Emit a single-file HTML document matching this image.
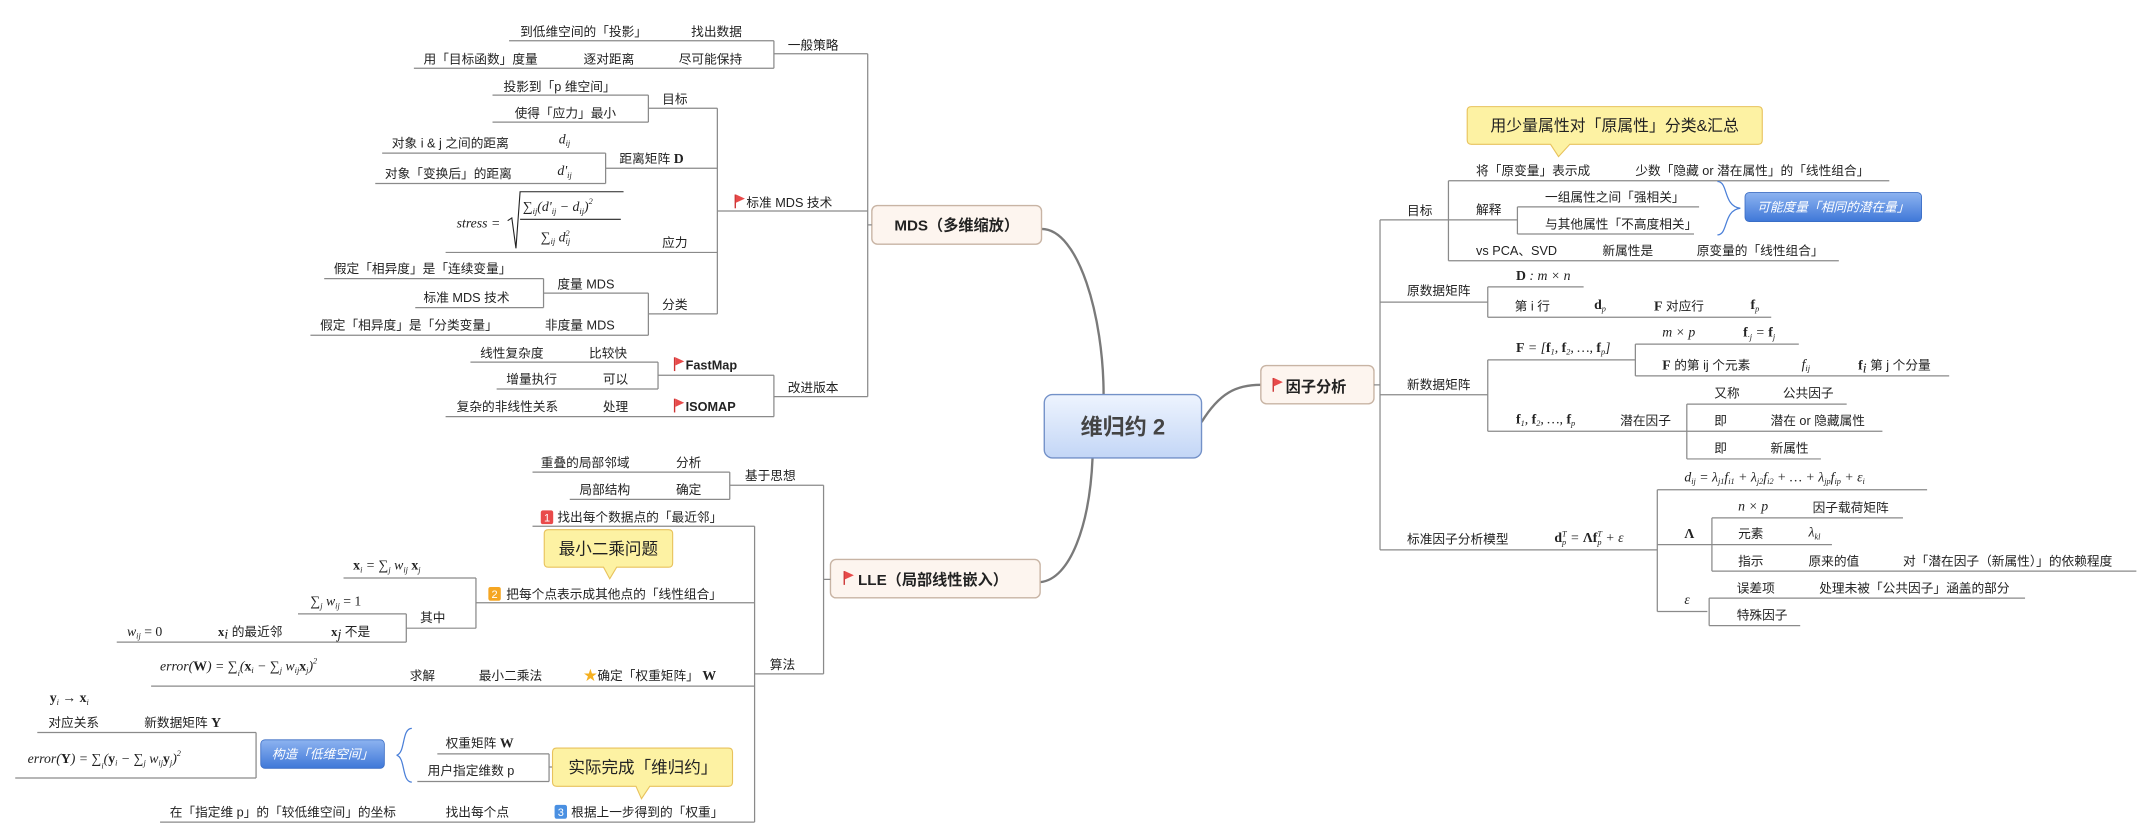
<!DOCTYPE html>
<html><head><meta charset="utf-8"><style>
html,body{margin:0;padding:0;background:#fff;width:2152px;height:838px;overflow:hidden}
svg{display:block}
text{font-family:"Liberation Sans","Noto Sans CJK SC",sans-serif;font-size:9.2px;fill:#222}
.m{font-family:"Liberation Serif","Noto Serif CJK SC",serif;font-style:italic;font-size:10px}
.b{font-family:"Liberation Serif",serif;font-weight:bold;font-style:normal}
.t{font-weight:bold;font-size:11px}
.l{stroke:#8a8a8a;stroke-width:0.9;fill:none}
.c{stroke:#7a7a7a;stroke-width:1.7;fill:none}
</style></head><body>
<svg width="2152" height="838" viewBox="0 0 1560 607.5" xmlns="http://www.w3.org/2000/svg">
<defs>
<linearGradient id="cg" x1="0" y1="0" x2="0" y2="1"><stop offset="0" stop-color="#eef4fe"/><stop offset="1" stop-color="#c3d6f6"/></linearGradient>
<linearGradient id="bg" x1="0" y1="0" x2="0" y2="1"><stop offset="0" stop-color="#8db3f0"/><stop offset="1" stop-color="#3f78d8"/></linearGradient>
<g id="flag"><path d="M0,0 V10" stroke="#c33" stroke-width="1"/><path d="M0.5,0 L7,3 L0.5,6 Z" fill="#e84a4a"/></g>
</defs>

<!-- main curves -->
<path class="c" d="M755,166 C782,166 800,230 800,286"/>
<path class="c" d="M754,422 C776,420 790,380 792,332"/>
<path class="c" d="M871,306 C884,285 896,279 914,279"/>

<!-- center -->
<rect x="757" y="286" width="114" height="46" rx="6" fill="url(#cg)" stroke="#7391c8" stroke-width="1"/>
<text x="814" y="315" text-anchor="middle" style="font-size:16px;font-weight:bold;fill:#444">维归约 2</text>

<!-- MDS box -->
<rect x="632" y="149" width="123" height="28" rx="4" fill="#fdf5ef" stroke="#c8b4a4"/>
<text x="693.5" y="167" text-anchor="middle" class="t">MDS（多维缩放）</text>

<!-- MDS tree -->
<g class="l">
<path d="M629,39 V287.5 M629,163 H632"/>
<path d="M561,39 H629 M561,29.5 V49.5 M369,29.5 H561 M300,49.5 H561"/>
<path d="M520,153 H629 M520,78.5 V227.5"/>
<path d="M470,78.5 H520 M470,69 V88.5 M357,69 H470 M357,88.5 H470"/>
<path d="M439,122 H520 M439,111 V133 M277,111 H439 M272,133 H439"/>
<path d="M323,183 H520"/>
<path d="M470,227.5 H520 M470,212.5 V243 M394,212.5 H470 M394,202 V223 M235,202 H394 M301,223 H394 M225,243 H470"/>
<path d="M561,287.5 H629 M561,272 V302 M477,272 H561 M477,262.5 V282 M341,262.5 H477 M360,282 H477 M323,302 H561"/>
</g>
<text x="571" y="36">一般策略</text>
<text x="377" y="26">到低维空间的「投影」</text><text x="501" y="26">找出数据</text>
<text x="307" y="46">用「目标函数」度量</text><text x="423" y="46">逐对距离</text><text x="492" y="46">尽可能保持</text>
<use href="#flag" x="533" y="141"/><text x="541" y="150">标准 MDS 技术</text>
<text x="480" y="75">目标</text>
<text x="365" y="66">投影到「p 维空间」</text>
<text x="373" y="85">使得「应力」最小</text>
<text x="449" y="118">距离矩阵 <tspan class="b" style="font-size:10px">D</tspan></text>
<text x="284" y="107">对象 i &amp; j 之间的距离</text><text x="405" y="104" class="m">d<tspan font-size="6" dy="2">ij</tspan></text>
<text x="279" y="129">对象「变换后」的距离</text><text x="404" y="127" class="m">d'<tspan font-size="6" dy="2">ij</tspan></text>
<text x="480" y="179">应力</text>
<text x="331" y="165" class="m">stress =</text>
<path d="M368,160 L371,158 L374,180 L377,139 H452" stroke="#222" stroke-width="0.8" fill="none"/>
<text x="379" y="153" class="m">∑<tspan font-size="6" dy="2">ij</tspan><tspan dy="-2">(d'</tspan><tspan font-size="6" dy="2">ij</tspan><tspan dy="-2"> − d</tspan><tspan font-size="6" dy="2">ij</tspan><tspan dy="-2">)</tspan><tspan font-size="6" dy="-5">2</tspan></text>
<path d="M377,159 H450" stroke="#222" stroke-width="0.8"/>
<text x="392" y="175" class="m">∑<tspan font-size="6" dy="2">ij</tspan><tspan dy="-2"> d</tspan><tspan font-size="6" dy="-4">2</tspan><tspan font-size="6" dx="-3" dy="6">ij</tspan></text>
<text x="480" y="224">分类</text>
<text x="404" y="209">度量 MDS</text>
<text x="242" y="198">假定「相异度」是「连续变量」</text>
<text x="307" y="219">标准 MDS 技术</text>
<text x="395" y="239">非度量 MDS</text><text x="232" y="239">假定「相异度」是「分类变量」</text>
<text x="571" y="284">改进版本</text>
<use href="#flag" x="489" y="259"/><text x="497" y="268" style="font-weight:bold">FastMap</text>
<text x="348" y="259">线性复杂度</text><text x="427" y="259">比较快</text>
<text x="367" y="278">增量执行</text><text x="437" y="278">可以</text>
<use href="#flag" x="489" y="289"/><text x="497" y="298" style="font-weight:bold">ISOMAP</text>
<text x="331" y="298">复杂的非线性关系</text><text x="437" y="298">处理</text>

<!-- LLE box -->
<rect x="602" y="405.6" width="152" height="27.8" rx="4" fill="#fdf5ef" stroke="#c8b4a4"/>
<use href="#flag" x="612" y="414"/><text x="622" y="424" class="t">LLE（局部线性嵌入）</text>

<g class="l">
<path d="M597,351.8 V488.5 M597,420 H602"/>
<path d="M529,351.8 H597 M529,342.3 V362 M386,342.3 H529 M413,362 H529"/>
<path d="M547,488.5 H597 M547,381.5 V596 M386,381.5 H547"/>
<path d="M345,437 H547 M345,419 V455.4 M249,419 H345 M294.5,455.4 H345 M294.5,445 V465.5 M216,445 H294.5 M84.6,465.5 H294.5"/>
<path d="M109.5,497.4 H547 M116,596 H547"/>
<path d="M317,546.5 H398 M302.5,566.5 H398 M398,546.5 V566.5 M398,556 H401"/>
<path d="M11,564 H185.6 M27,531 H185.6 M185.6,531 V564"/>
</g>
<text x="540" y="348">基于思想</text>
<text x="392" y="338.5">重叠的局部邻域</text><text x="490" y="338.5">分析</text>
<text x="420" y="358">局部结构</text><text x="490" y="358">确定</text>
<text x="558" y="485">算法</text>
<rect x="392" y="370" width="9" height="10" rx="1.5" fill="#e94a4a"/><text x="394.3" y="378" style="font-size:8px;fill:#fff">1</text>
<text x="404" y="378">找出每个数据点的「最近邻」</text>
<rect x="354" y="425.5" width="9" height="10" rx="1.5" fill="#f5a623"/><text x="356.3" y="433.5" style="font-size:8px;fill:#fff">2</text>
<text x="367" y="434">把每个点表示成其他点的「线性组合」</text>
<text x="256" y="413" class="m"><tspan class="b">x</tspan><tspan font-size="6" dy="2">i</tspan><tspan dy="-2"> = ∑</tspan><tspan font-size="6" dy="2">j</tspan><tspan dy="-2"> w</tspan><tspan font-size="6" dy="2">ij</tspan><tspan dy="-2" class="b"> x</tspan><tspan font-size="6" dy="2">j</tspan></text>
<text x="304.5" y="451">其中</text>
<text x="225" y="439" class="m">∑<tspan font-size="6" dy="2">j</tspan><tspan dy="-2"> w</tspan><tspan font-size="6" dy="2">ij</tspan><tspan dy="-2" style="font-style:normal"> = 1</tspan></text>
<text x="92" y="461" class="m">w<tspan font-size="6" dy="2">ij</tspan><tspan dy="-2" style="font-style:normal"> = 0</tspan></text>
<text x="158" y="461"><tspan class="b">x</tspan><tspan font-size="6" dy="2" class="m">i</tspan><tspan dy="-2"> 的最近邻</tspan></text>
<text x="240" y="461"><tspan class="b">x</tspan><tspan font-size="6" dy="2" class="m">j</tspan><tspan dy="-2"> 不是</tspan></text>
<text x="116" y="486" class="m">error(<tspan class="b">W</tspan>) = ∑<tspan font-size="6" dy="4">i</tspan><tspan dy="-4">(</tspan><tspan class="b">x</tspan><tspan font-size="6" dy="2">i</tspan><tspan dy="-2"> − ∑</tspan><tspan font-size="6" dy="2">j</tspan><tspan dy="-2"> w</tspan><tspan font-size="6" dy="2">ij</tspan><tspan dy="-2" class="b">x</tspan><tspan font-size="6" dy="2">j</tspan><tspan dy="-2">)</tspan><tspan font-size="6" dy="-5">2</tspan></text>
<text x="297" y="493">求解</text><text x="347" y="493">最小二乘法</text>
<text x="423" y="493" style="fill:#f5b020;font-size:10px">★</text><text x="433" y="493">确定「权重矩阵」 <tspan class="b" style="font-size:10px">W</tspan></text>
<rect x="402" y="583.5" width="9" height="10" rx="1.5" fill="#4a90e2"/><text x="404.3" y="591.5" style="font-size:8px;fill:#fff">3</text>
<text x="414" y="592">根据上一步得到的「权重」</text>
<text x="323" y="592">找出每个点</text>
<text x="123" y="592">在「指定维 p」的「较低维空间」的坐标</text>
<text x="323" y="542">权重矩阵 <tspan class="b" style="font-size:10px">W</tspan></text>
<text x="310" y="562">用户指定维数 p</text>
<path d="M298.5,528 C291,528 294,546 287.5,547.5 C294,549 291,567 298.5,567" stroke="#4a7fd8" stroke-width="0.9" fill="none"/>
<rect x="189" y="536.3" width="89.6" height="20.7" rx="3" fill="url(#bg)" stroke="#3a6cc4" stroke-width="0.6"/>
<text x="233.8" y="550" text-anchor="middle" style="fill:#fff;font-style:italic">构造「低维空间」</text>
<text x="20" y="553" class="m">error(<tspan class="b">Y</tspan>) = ∑<tspan font-size="6" dy="4">i</tspan><tspan dy="-4">(</tspan><tspan class="b">y</tspan><tspan font-size="6" dy="2">i</tspan><tspan dy="-2"> − ∑</tspan><tspan font-size="6" dy="2">j</tspan><tspan dy="-2"> w</tspan><tspan font-size="6" dy="2">ij</tspan><tspan dy="-2" class="b">y</tspan><tspan font-size="6" dy="2">j</tspan><tspan dy="-2">)</tspan><tspan font-size="6" dy="-5">2</tspan></text>
<text x="35" y="527">对应关系</text><text x="104.5" y="527">新数据矩阵 <tspan class="b" style="font-size:10px">Y</tspan></text>
<text x="36" y="509" class="m"><tspan class="b">y</tspan><tspan font-size="6" dy="2">i</tspan><tspan dy="-2" style="font-style:normal"> → </tspan><tspan class="b">x</tspan><tspan font-size="6" dy="2">i</tspan></text>
<!-- callouts LLE -->
<path d="M397.5,384 H484.6 Q487.6,384 487.6,387 V408.2 Q487.6,411.2 484.6,411.2 H447 L442,419.6 L437.5,411.2 H397.5 Q394.5,411.2 394.5,408.2 V387 Q394.5,384 397.5,384 Z" fill="#fdf2a3" stroke="#e8c25c" stroke-width="0.8"/>
<text x="441" y="402" text-anchor="middle" style="font-size:12px">最小二乘问题</text>
<path d="M403.5,542.3 H528 Q531,542.3 531,545.3 V567 Q531,570 528,570 H471 L465,579 L461,570 H403.5 Q400.5,570 400.5,567 V545.3 Q400.5,542.3 403.5,542.3 Z" fill="#fdf2a3" stroke="#e8c25c" stroke-width="0.8"/>
<text x="466" y="560.5" text-anchor="middle" style="font-size:12px">实际完成「维归约」</text>

<!-- Factor box -->
<rect x="914" y="265" width="82" height="27.7" rx="4" fill="#fdf5ef" stroke="#c8b4a4"/>
<use href="#flag" x="923" y="274"/><text x="932" y="284" class="t">因子分析</text>

<g class="l">
<path d="M1000.4,159.4 V398.6 M996,279 H1000.4"/>
<path d="M1000.4,159.4 H1050 M1050,131 V189 M1050,131 H1369.6 M1050,159.4 H1100 M1100,150 V169.6 M1100,150 H1231.7 M1100,169.6 H1228 M1050,189 H1333"/>
<path d="M1000.4,219 H1078.5 M1078.5,208 V230 M1078.5,208 H1148 M1078.5,230 H1284"/>
<path d="M1000.4,286.2 H1078.5 M1078.5,260.9 V312.6 M1078.5,260.9 H1185.5 M1185.5,249.5 V272.5 M1185.5,249.5 H1304 M1185.5,272.5 H1413 M1078.5,312.6 H1364.6 M1222.8,293 V332.7 M1222.8,293 H1338.7 M1222.8,332.7 H1320"/>
<path d="M1000.4,398.6 H1201.4 M1201.4,355 V443.3 M1201.4,355 H1397 M1201.4,394.8 H1328 M1241,375.4 V414 M1241,375.4 H1379.5 M1241,414 H1548.7 M1201.4,443.3 H1237.7 M1239,433.6 V453.5 M1239,433.6 H1468 M1239,453.5 H1305"/>
</g>
<path d="M1066.6,77.3 H1274.5 Q1277.5,77.3 1277.5,80.3 V101.6 Q1277.5,104.6 1274.5,104.6 H1138 L1129.8,113.5 L1124,104.6 H1066.6 Q1063.6,104.6 1063.6,101.6 V80.3 Q1063.6,77.3 1066.6,77.3 Z" fill="#fdf2a3" stroke="#e8c25c" stroke-width="0.8"/>
<text x="1170.5" y="95" text-anchor="middle" style="font-size:11.5px">用少量属性对「原属性」分类&amp;汇总</text>
<text x="1020" y="156">目标</text>
<text x="1070" y="127">将「原变量」表示成</text><text x="1185.5" y="127">少数「隐藏 or 潜在属性」的「线性组合」</text>
<text x="1070" y="155">解释</text>
<text x="1120" y="146">一组属性之间「强相关」</text>
<text x="1120" y="165.5">与其他属性「不高度相关」</text>
<path d="M1245,131.6 C1253,131.6 1249,149.5 1261.6,151 C1249,152.5 1253,170.3 1245,170.3" stroke="#4a7fd8" stroke-width="0.9" fill="none"/>
<rect x="1265" y="139.6" width="128" height="21" rx="3" fill="url(#bg)" stroke="#3a6cc4" stroke-width="0.6"/>
<text x="1329" y="153.5" text-anchor="middle" style="fill:#fff;font-style:italic">可能度量「相同的潜在量」</text>
<text x="1070" y="185">vs PCA、SVD</text><text x="1161.6" y="185">新属性是</text><text x="1230" y="185">原变量的「线性组合」</text>
<text x="1020" y="214">原数据矩阵</text>
<text x="1099" y="203" class="m"><tspan class="b">D</tspan> : m × n</text>
<text x="1098" y="225">第 i 行</text><text x="1155.6" y="224" class="m"><tspan class="b">d</tspan><tspan font-size="6" dy="2">p</tspan></text>
<text x="1199" y="225"><tspan class="b" style="font-size:10px">F</tspan> 对应行</text><text x="1269" y="224" class="m"><tspan class="b">f</tspan><tspan font-size="6" dy="2">p</tspan></text>
<text x="1020" y="282">新数据矩阵</text>
<text x="1099" y="255" class="m"><tspan class="b">F</tspan> = [<tspan class="b">f</tspan><tspan font-size="6" dy="2">1</tspan><tspan dy="-2">, </tspan><tspan class="b">f</tspan><tspan font-size="6" dy="2">2</tspan><tspan dy="-2">, …, </tspan><tspan class="b">f</tspan><tspan font-size="6" dy="2">p</tspan><tspan dy="-2">]</tspan></text>
<text x="1205" y="244" class="m">m × p</text>
<text x="1263.6" y="244" class="m"><tspan class="b">f</tspan><tspan font-size="6" dy="2">·j</tspan><tspan dy="-2"> = </tspan><tspan class="b">f</tspan><tspan font-size="6" dy="2">j</tspan></text>
<text x="1205" y="268"><tspan class="b" style="font-size:10px">F</tspan> 的第 ij 个元素</text>
<text x="1306" y="267" class="m">f<tspan font-size="6" dy="2">ij</tspan></text>
<text x="1347" y="268"><tspan class="b" style="font-size:10px">f</tspan><tspan font-size="6" dy="2" class="m">i</tspan><tspan dy="-2"> 第 j 个分量</tspan></text>
<text x="1099" y="307" class="m"><tspan class="b">f</tspan><tspan font-size="6" dy="2">1</tspan><tspan dy="-2">, </tspan><tspan class="b">f</tspan><tspan font-size="6" dy="2">2</tspan><tspan dy="-2">, …, </tspan><tspan class="b">f</tspan><tspan font-size="6" dy="2">p</tspan></text>
<text x="1174.5" y="308">潜在因子</text>
<text x="1242.7" y="288">又称</text><text x="1292.4" y="288">公共因子</text>
<text x="1242.7" y="308">即</text><text x="1283.5" y="308">潜在 or 隐藏属性</text>
<text x="1242.7" y="328">即</text><text x="1283.5" y="328">新属性</text>
<text x="1020" y="394">标准因子分析模型</text>
<text x="1126.8" y="393" class="m"><tspan class="b">d</tspan><tspan font-size="6" dy="2">p</tspan><tspan font-size="6" dx="-3" dy="-6">T</tspan><tspan dy="4"> = </tspan><tspan class="b">Λf</tspan><tspan font-size="6" dy="2">p</tspan><tspan font-size="6" dx="-3" dy="-6">T</tspan><tspan dy="4"> + ε</tspan></text>
<text x="1221" y="349" class="m">d<tspan font-size="6" dy="2">ij</tspan><tspan dy="-2"> = λ</tspan><tspan font-size="6" dy="2">j1</tspan><tspan dy="-2">f</tspan><tspan font-size="6" dy="2">i1</tspan><tspan dy="-2"> + λ</tspan><tspan font-size="6" dy="2">j2</tspan><tspan dy="-2">f</tspan><tspan font-size="6" dy="2">i2</tspan><tspan dy="-2"> + … + λ</tspan><tspan font-size="6" dy="2">jp</tspan><tspan dy="-2">f</tspan><tspan font-size="6" dy="2">ip</tspan><tspan dy="-2"> + ε</tspan><tspan font-size="6" dy="2">i</tspan></text>
<text x="1221" y="390" class="b" style="font-size:10px">Λ</text>
<text x="1260" y="370" class="m">n × p</text><text x="1314" y="371">因子载荷矩阵</text>
<text x="1260" y="390">元素</text><text x="1311" y="389" class="m">λ<tspan font-size="6" dy="2">kl</tspan></text>
<text x="1260" y="410">指示</text><text x="1311" y="410">原来的值</text><text x="1379.5" y="410">对「潜在因子（新属性）」的依赖程度</text>
<text x="1221" y="438" class="m">ε</text>
<text x="1259" y="429.5">误差项</text><text x="1318.8" y="429.5">处理未被「公共因子」涵盖的部分</text>
<text x="1259" y="449">特殊因子</text>
</svg>
</body></html>
